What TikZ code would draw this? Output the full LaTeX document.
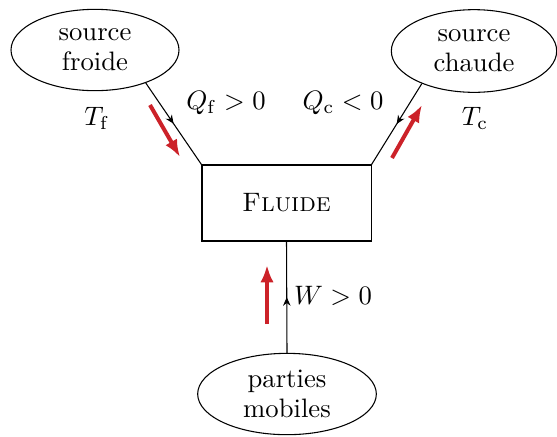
\documentclass[tikz,border=0pt]{standalone}
\usetikzlibrary{shapes.geometric,decorations.markings,arrows.meta}
\definecolor{flux}{RGB}{204,34,41}
\begin{document}
\begin{tikzpicture}[x=0.375pt,y=-0.375pt,
  every node/.style={font=\fontsize{10}{11.3}\selectfont},
  src/.style={ellipse,draw,inner sep=0pt,align=center},
  box/.style={rectangle,draw,inner sep=0pt,minimum width=63.4pt,minimum height=28.5pt},
  midarrow/.style={postaction={decorate},decoration={markings,mark=at position 0.5 with {\arrow{Stealth[length=3.2pt,width=2.8pt,inset=1pt]}}}},
  flow/.style={draw=flux,line width=1.5pt,-{Latex[length=6.5pt,width=5pt]}}]
\useasboundingbox (0,0) rectangle (557,436);
\node[src,minimum width=63pt,minimum height=30.5pt] (sf) at (95,50) {source\\froide};
\node[src,minimum width=62pt,minimum height=31pt] (sc) at (474,51) {source\\chaude};
\node[src,minimum width=67pt,minimum height=30.5pt] (pm) at (287,394) {parties\\mobiles};
\node[box] (fl) at (286.5,203) {\textsc{Fluide}};
\draw[midarrow] (sf.-33) -- (fl.north west);
\draw[midarrow] (sc.-148) -- (fl.north east);
\draw[midarrow] (pm.north) -- (fl.south);
\node (tf) at (97,118) {$T_\mathrm{f}$};
\node (tc) at (475,118) {$T_\mathrm{c}$};
\node (qf) at (226,103) {$Q_\mathrm{f}>0$};
\node (qc) at (343,103) {$Q_\mathrm{c}<0$};
\node (w) at (333,296) {$W>0$};
\coordinate (a1) at (150,105); \coordinate (b1) at (180,157);
\coordinate (a2) at (392,158); \coordinate (b2) at (422,105);
\coordinate (a3) at (267,324); \coordinate (b3) at (267,265);
\draw[flow] (a1) -- (b1);
\draw[flow] (a2) -- (b2);
\draw[flow] (a3) -- (b3);
\end{tikzpicture}
\end{document}
